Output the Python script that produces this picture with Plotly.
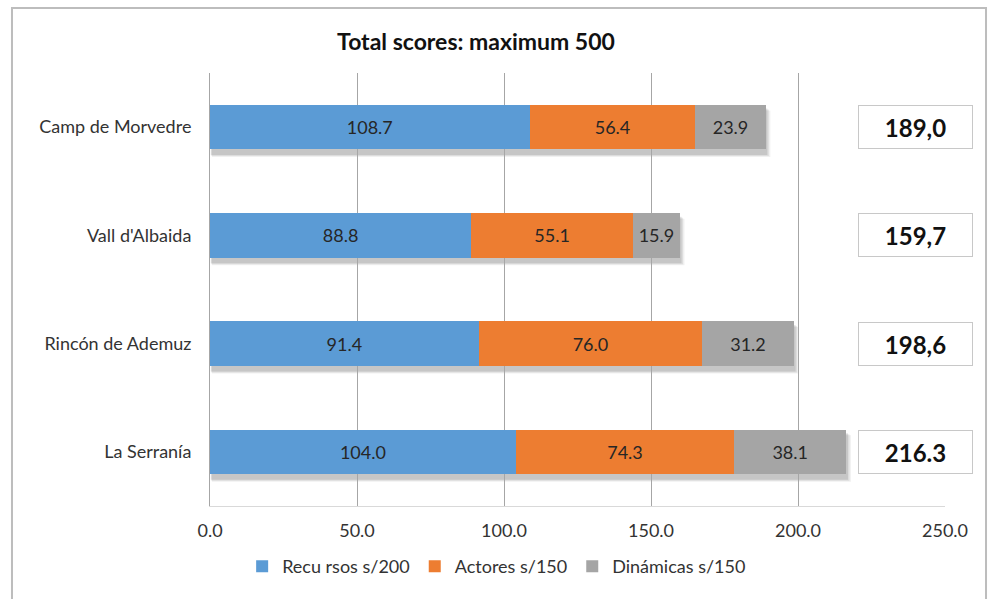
import plotly.graph_objects as go

categories = ["Camp de Morvedre", "Vall d'Albaida", "Rincón de Ademuz", "La Serranía"]
recursos = [108.7, 88.8, 91.4, 104.0]
actores = [56.4, 55.1, 76.0, 74.3]
dinamicas = [23.9, 15.9, 31.2, 38.1]
total_labels = ["189,0", "159,7", "198,6", "216.3"]
series_names = ["Recu rsos s/200", "Actores s/150", "Dinámicas s/150"]
x_ticks = [0, 50, 100, 150, 200, 250]

colors = ["#5B9BD5", "#ED7D31", "#A5A5A5"]
FONT = "Lato"

fig = go.Figure()

# soft shadows behind bars (derived from data totals)
totals = [r + a + d for r, a, d in zip(recursos, actores, dinamicas)]
for i, t in enumerate(totals):
    for k, op in enumerate([0.06, 0.08, 0.10]):
        off = 1.6 - k * 0.5
        fig.add_shape(type="rect", xref="x", yref="y", layer="below",
                      x0=0 + off * 0.4, x1=t + off,
                      y0=i - 0.205 + 0.02 + off * 0.02, y1=i + 0.205 + 0.04 + off * 0.02,
                      fillcolor=f"rgba(0,0,0,{op})", line_width=0)

for name, vals, col in zip(series_names, [recursos, actores, dinamicas], colors):
    fig.add_trace(go.Bar(
        y=categories, x=vals, name=name, orientation="h",
        marker=dict(color=col, line=dict(width=0)),
        text=[f"{v:.1f}" for v in vals], textposition="inside",
        insidetextanchor="middle",
        textfont=dict(family=FONT, size=18, color="#262626"),
        hoverinfo="x+name",
    ))

for cat, lab in zip(categories, total_labels):
    fig.add_annotation(x=240, y=cat, xref="x", yref="y", text=f"<b>{lab}</b>",
                       showarrow=False, font=dict(family=FONT, size=24, color="#111111"),
                       bgcolor="white", bordercolor="#c8c8c8", borderwidth=1,
                       width=111, height=40, align="center")

# outer chart border
fig.add_shape(type="rect", xref="paper", yref="paper",
              x0=-0.2694, x1=1.0558, y0=-0.4, y1=1.150,
              line=dict(color="#bdbdbd", width=2), fillcolor="rgba(0,0,0,0)", layer="below")

fig.update_layout(
    width=993, height=599,
    margin=dict(l=210, r=48, t=73, b=93),
    paper_bgcolor="white", plot_bgcolor="white",
    barmode="stack", bargap=0.59,
    title=dict(text="<b>Total scores: maximum 500</b>", x=476 / 993, xanchor="center",
               y=1 - 42 / 599, yanchor="middle",
               font=dict(family=FONT, size=23, color="#111111")),
    font=dict(family=FONT, size=18, color="#333333"),
    legend=dict(orientation="h", x=0.39, xanchor="center", y=-0.14, yanchor="middle",
                font=dict(family=FONT, size=18, color="#333333"),
                traceorder="normal", itemwidth=30),
    xaxis=dict(range=[0, 250], tickvals=x_ticks, ticktext=[f"{v:.1f}" for v in x_ticks],
               showgrid=True, gridcolor="#a6a6a6", gridwidth=1,
               zeroline=False, showline=True, linecolor="#d9d9d9", linewidth=1,
               ticks="", ticklabelstandoff=8,
               tickfont=dict(family=FONT, size=18, color="#333333")),
    yaxis=dict(categoryorder="array", categoryarray=categories, autorange="reversed",
               showline=True, linecolor="#a6a6a6", linewidth=1, showgrid=False,
               ticks="", ticklabelstandoff=14,
               tickfont=dict(family=FONT, size=18, color="#333333")),
    showlegend=True,
)

fig.write_html("out.html")
